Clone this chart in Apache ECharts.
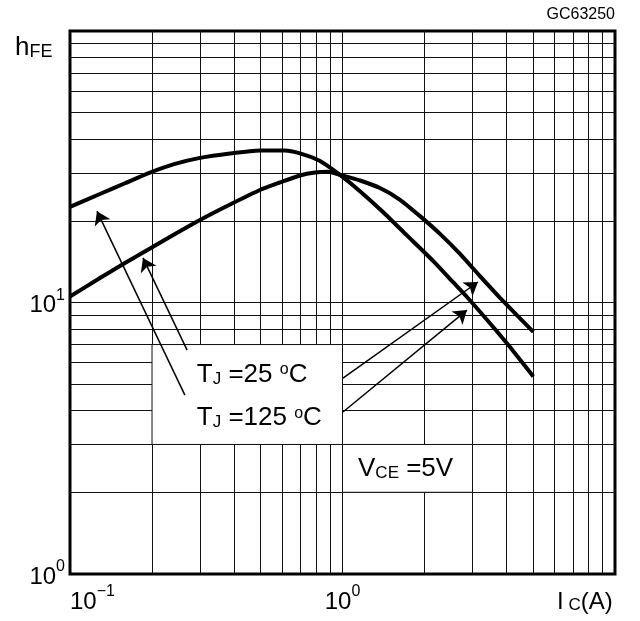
<!DOCTYPE html>
<html>
<head>
<meta charset="utf-8">
<script src="https://cdn.jsdelivr.net/npm/echarts@6/dist/echarts.min.js"></script>
<style>
html, body { margin: 0; background: #fff; }
#chart { width: 640px; height: 621px; }
</style>
</head>
<body>
<div id="chart"></div>
<script>
// hFE vs Ic
var ic25 = [0.1, 0.1288, 0.1591, 0.1966, 0.2428, 0.30, 0.3866, 0.498, 0.615, 0.698, 0.827, 0.979, 1.159, 1.411, 1.72, 2.154, 2.551, 2.857, 3.382, 4.005, 5.013];
var hfe25 = [22.5, 25.1, 27.5, 30.1, 32.4, 34.1, 35.4, 36.3, 36.3, 35.4, 33.2, 29.5, 25.7, 21.5, 17.7, 14.2, 11.85, 10.5, 8.66, 7.09, 5.34];
var ic125 = [0.1, 0.1288, 0.1591, 0.1966, 0.2428, 0.30, 0.3866, 0.498, 0.59, 0.698, 0.7926, 0.8847, 0.979, 1.159, 1.373, 1.626, 1.925, 2.279, 2.699, 3.196, 3.784, 5.013];
var hfe125 = [10.52, 12.31, 13.98, 15.81, 17.88, 20.14, 22.96, 25.97, 27.67, 29.37, 30.12, 30.33, 29.53, 28.14, 26.4, 23.9, 20.8, 17.9, 15.1, 12.5, 10.4, 7.79];

// log grid lines and decade labels
var xGrid = [0.2, 0.3, 0.4, 0.5, 0.6, 0.7, 0.8, 0.9, 1, 2, 3, 4, 5, 6, 7, 8, 9];
var yGrid = [2, 3, 4, 5, 6, 7, 8, 9, 10, 20, 30, 40, 50, 60, 70, 80, 90];
var xTicks = [0.1, 1];
var xTickExp = ['\u22121', '0'];
var yTicks = [1, 10];
var yTickExp = ['0', '1'];

// annotation boxes [x0, y0, x1, y1] (white, hide the grid) and arrows, in data coords
var boxes = [[0.2, 7, 1, 3], [1, 3, 3, 2]];
var arrows = [
    [[0.264, 4.56], [0.1256, 21.7]],
    [[0.269, 6.68], [0.1853, 14.6]],
    [[1.004, 5.27], [3.142, 11.9]],
    [[1.004, 3.95], [2.863, 9.38]]
];
var notes = [
    {at: [0.292, 5.41], text: '{t|T}{s|J}{t| =25 }{o|o}{t|C}'},
    {at: [0.292, 3.75], text: '{t|T}{s|J}{t| =125 }{o|o}{t|C}'},
    {at: [1.14, 2.44], text: '{v|V}{s|CE}{v| =5V}'}
];

var FONT = "'Liberation Sans', Arial, sans-serif";

function pairs(xs, ys) {
    return xs.map(function (x, i) { return [x, ys[i]]; });
}

function decadeLabel(ticks, exps) {
    return function (v) {
        for (var i = 0; i < ticks.length; i++) {
            if (Math.abs(Math.log10(v) - Math.log10(ticks[i])) < 1e-6) {
                return '{b|10}{s|' + exps[i] + '}';
            }
        }
        return '';
    };
}

var labelRich = {
    b: {fontFamily: FONT, fontSize: 24, lineHeight: 30, color: '#000', verticalAlign: 'bottom'},
    s: {fontFamily: FONT, fontSize: 16, lineHeight: 16, color: '#000', verticalAlign: 'top'}
};

var noteRich = {
    t: {fontFamily: FONT, fontSize: 26, lineHeight: 26, color: '#000', verticalAlign: 'top'},
    v: {fontFamily: FONT, fontSize: 26, lineHeight: 26, color: '#000', verticalAlign: 'top'},
    s: {fontFamily: FONT, fontSize: 17, lineHeight: 17, color: '#000', verticalAlign: 'bottom'},
    o: {fontFamily: FONT, fontSize: 16, lineHeight: 12, color: '#000', verticalAlign: 'top'}
};

var chart = echarts.init(document.getElementById('chart'));

var option = {
    animation: false,
    backgroundColor: '#fff',
    grid: {
        left: 70, right: 25, top: 31, bottom: 47,
        show: true, borderColor: '#000', borderWidth: 3
    },
    xAxis: {
        type: 'log', logBase: 10, min: 0.1, max: 10,
        axisLine: {show: false}, axisTick: {show: false}, splitLine: {show: false},
        axisLabel: {margin: 10, alignMinLabel: 'left', formatter: decadeLabel(xTicks, xTickExp), rich: labelRich}
    },
    yAxis: {
        type: 'log', logBase: 10, min: 1, max: 100,
        axisLine: {show: false}, axisTick: {show: false}, splitLine: {show: false},
        axisLabel: {margin: 5, formatter: decadeLabel(yTicks, yTickExp), rich: labelRich}
    },
    series: [
        {
            // grid lines
            type: 'line', data: [], z: 1, silent: true,
            markLine: {
                z: 1, silent: true, symbol: ['none', 'none'], label: {show: false},
                lineStyle: {color: '#111', width: 1, type: 'solid'},
                data: xGrid.map(function (v) { return {xAxis: v}; })
                    .concat(yGrid.map(function (v) { return {yAxis: v}; }))
            }
        },
        {
            // white label boxes
            type: 'custom', z: 2, silent: true,
            encode: {x: [0, 2], y: [1, 3]},
            data: boxes,
            renderItem: function (params, api) {
                var p0 = api.coord([api.value(0), api.value(1)]);
                var p1 = api.coord([api.value(2), api.value(3)]);
                return {
                    type: 'rect',
                    shape: {x: p0[0], y: p0[1], width: p1[0] - p0[0], height: p1[1] - p0[1]},
                    style: {fill: '#fff', stroke: '#111', lineWidth: 1}
                };
            }
        },
        {
            name: 'TJ=25', type: 'line', z: 3, showSymbol: false, smooth: 0.2,
            lineStyle: {color: '#000', width: 4},
            data: pairs(ic25, hfe25)
        },
        {
            name: 'TJ=125', type: 'line', z: 3, showSymbol: false, smooth: 0.2,
            lineStyle: {color: '#000', width: 4},
            data: pairs(ic125, hfe125)
        },
        {
            // arrows
            type: 'line', data: [], z: 5, silent: true,
            markLine: {
                z: 5, silent: true, symbol: ['none', 'arrow'], symbolSize: 13, label: {show: false},
                lineStyle: {color: '#000', width: 1.5, type: 'solid'},
                data: arrows.map(function (a) { return [{coord: a[0]}, {coord: a[1]}]; })
            }
        }
    ]
};

chart.setOption(option);

var graphics = notes.map(function (n) {
    var p = chart.convertToPixel({gridIndex: 0}, n.at);
    return {
        type: 'text', z: 10, x: p[0], y: p[1],
        style: {text: n.text, rich: noteRich, align: 'left', verticalAlign: 'middle'}
    };
});

graphics.push({
    type: 'text', z: 10, x: 15, y: 48,
    style: {
        text: '{h|h}{s|FE}', align: 'left', verticalAlign: 'middle',
        rich: {
            h: {fontFamily: FONT, fontSize: 26, lineHeight: 26, color: '#000', verticalAlign: 'top'},
            s: {fontFamily: FONT, fontSize: 18, lineHeight: 18, color: '#000', verticalAlign: 'bottom'}
        }
    }
});
graphics.push({
    type: 'text', z: 10, x: 557, y: 602,
    style: {
        text: '{t|I}{s| C}{t|(A)}', align: 'left', verticalAlign: 'middle',
        rich: {
            t: {fontFamily: FONT, fontSize: 24, lineHeight: 24, color: '#000', verticalAlign: 'top'},
            s: {fontFamily: FONT, fontSize: 17, lineHeight: 17, color: '#000', verticalAlign: 'bottom'}
        }
    }
});
graphics.push({
    type: 'text', z: 10, x: 615, y: 15,
    style: {text: 'GC63250', fontFamily: FONT, fontSize: 16, fill: '#000', align: 'right', verticalAlign: 'middle'}
});

chart.setOption({graphic: graphics});
</script>
</body>
</html>
